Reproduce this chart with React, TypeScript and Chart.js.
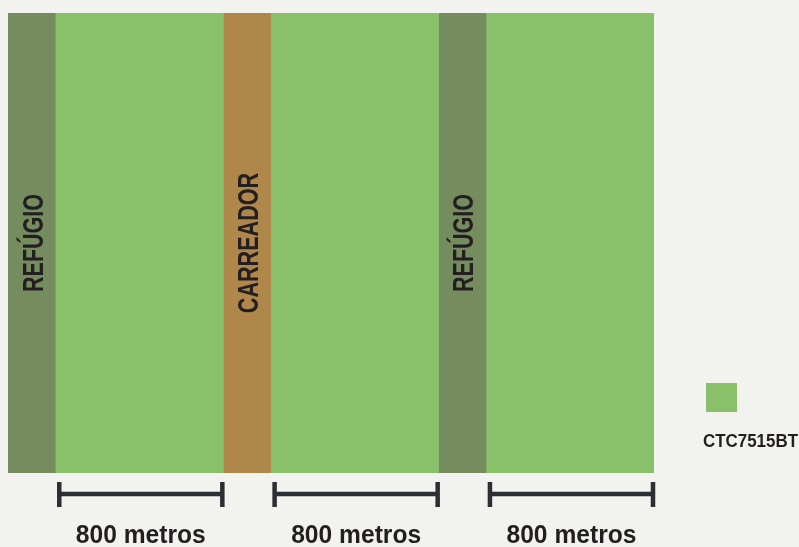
import React, { useEffect, useRef } from "react";
import { Chart, registerables } from "chart.js";

Chart.register(...registerables);

// Field strips, left to right (widths in metres, estimated)
const stripNames = ["Refúgio 1", "CTC7515BT 1", "Carreador", "CTC7515BT 2", "Refúgio 2", "CTC7515BT 3"];
const stripWidths = [225, 800, 225, 800, 225, 800];
const stripLabels = ["REFÚGIO", "", "CARREADOR", "", "REFÚGIO", ""];
const stripColors = ["#748C5E", "#8AC06A", "#B0874A", "#8AC06A", "#748C5E", "#8AC06A"];
const bracketStrips = [1, 3, 5];
const bracketLabel = "800 metros";
const legendLabel = "CTC7515BT";
const legendColor = "#8AC06A";

const DARK = "#231F20";
const FONT = '"Liberation Sans", Arial, sans-serif';
const LABEL_PX_PER_CHAR: Record<string, number> = { "REFÚGIO": 14, "CARREADOR": 15.6 };

// draw text condensed to a target width (mimics a condensed bold face)
function fitText(ctx: any, text: string, x: number, y: number, size: number, targetW: number) {
  ctx.font = "bold " + size + "px " + FONT;
  const w = ctx.measureText(text).width;
  const s = targetW / w;
  ctx.save();
  ctx.translate(x, y);
  ctx.scale(s, 1);
  ctx.fillText(text, 0, 0);
  ctx.restore();
}

const overlay = {
  id: "overlay",
  beforeDraw(chart: any) {
    const { ctx, width, height } = chart;
    ctx.save();
    ctx.fillStyle = "#F2F2EE";
    ctx.fillRect(0, 0, width, height);
    ctx.restore();
  },
  afterDatasetsDraw(chart: any) {
    const { ctx } = chart;
    const x = chart.scales.x;
    const area = chart.chartArea;
    const cum: number[] = [0];
    stripWidths.forEach((w, i) => cum.push(cum[i] + w));

    // strip labels
    ctx.save();
    ctx.fillStyle = DARK;
    ctx.textAlign = "center";
    ctx.textBaseline = "alphabetic";
    stripLabels.forEach((lab, i) => {
      if (!lab) return;
      const cx = (x.getPixelForValue(cum[i]) + x.getPixelForValue(cum[i + 1])) / 2;
      const cy = (area.top + area.bottom) / 2;
      ctx.save();
      ctx.translate(cx + 11, cy);
      ctx.rotate(-Math.PI / 2);
      fitText(ctx, lab, 0, 0, 30, lab.length * (LABEL_PX_PER_CHAR[lab] || 14.5));
      ctx.restore();
    });
    ctx.restore();

    // dimension brackets
    ctx.save();
    ctx.strokeStyle = "#2B2E33";
    ctx.fillStyle = DARK;
    const by = area.bottom + 21;
    bracketStrips.forEach((i) => {
      const x0 = x.getPixelForValue(cum[i]) + 4;
      const x1 = x.getPixelForValue(cum[i + 1]) - 1;
      ctx.lineWidth = 4.5;
      ctx.beginPath();
      ctx.moveTo(x0, by);
      ctx.lineTo(x1, by);
      ctx.stroke();
      ctx.beginPath();
      ctx.moveTo(x0, by - 12);
      ctx.lineTo(x0, by + 13);
      ctx.moveTo(x1, by - 12);
      ctx.lineTo(x1, by + 13);
      ctx.stroke();
      ctx.textAlign = "center";
      ctx.textBaseline = "alphabetic";
      fitText(ctx, bracketLabel, (x0 + x1) / 2, area.bottom + 70, 25, 130);
    });
    ctx.restore();

    // legend
    ctx.save();
    const lx = area.right + 52;
    const ly = area.top + 370;
    ctx.fillStyle = legendColor;
    ctx.fillRect(lx, ly, 31, 29);
    ctx.fillStyle = DARK;
    ctx.textAlign = "left";
    ctx.textBaseline = "alphabetic";
    fitText(ctx, legendLabel, lx - 3, ly + 64, 19, 95);
    ctx.restore();
  },
};

export default function App() {
  const ref = useRef<HTMLCanvasElement>(null);
  useEffect(() => {
    if (!ref.current) return;
    const chart = new Chart(ref.current, {
      type: "bar",
      data: {
        labels: ["campo"],
        datasets: stripNames.map((name, i) => ({
          label: name,
          data: [stripWidths[i]],
          backgroundColor: stripColors[i],
          borderWidth: 0,
          barPercentage: 1,
          categoryPercentage: 1,
        })),
      },
      options: {
        indexAxis: "y",
        animation: false,
        responsive: false,
        maintainAspectRatio: false,
        layout: { padding: { left: 8, right: 145, top: 13, bottom: 74 } },
        scales: {
          x: {
            stacked: true,
            min: 0,
            max: stripWidths.reduce((a, b) => a + b, 0),
            display: false,
          },
          y: { stacked: true, display: false },
        },
        plugins: {
          legend: { display: false },
          tooltip: { enabled: false },
        },
      },
      plugins: [overlay],
    });
    return () => chart.destroy();
  }, []);
  return (
    <div style={{ position: "absolute", left: 0, top: 0, width: 799, height: 547 }}>
      <canvas ref={ref} width={799} height={547} style={{ width: 799, height: 547, display: "block" }} />
    </div>
  );
}
